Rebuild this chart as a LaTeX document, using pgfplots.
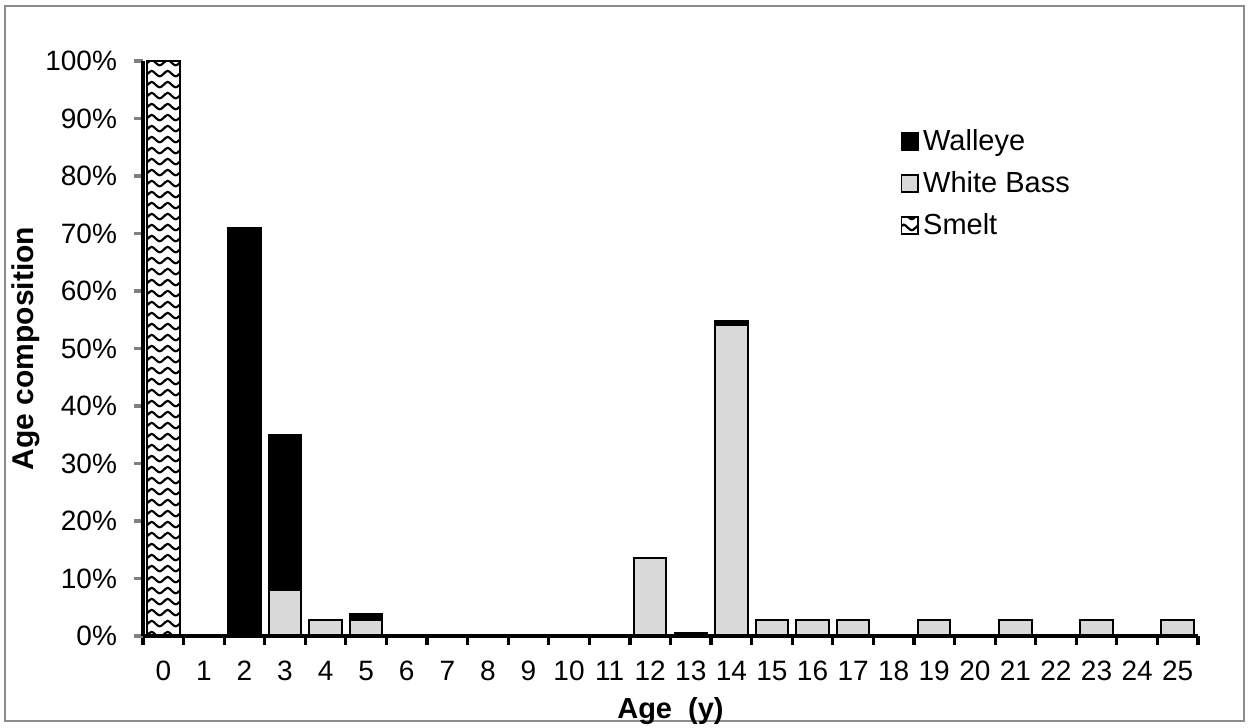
\documentclass[border=0pt]{standalone}
\usepackage{fontspec}
\setmainfont{Liberation Sans}
\usepackage{pgfplots}
\pgfplotsset{compat=1.18}
\usetikzlibrary{patterns}
\definecolor{wbgray}{HTML}{D9D9D9}
\definecolor{framegray}{HTML}{8C8C8C}
\pgfdeclarepatternformonly{waves}{\pgfqpoint{0pt}{0pt}}{\pgfqpoint{8pt}{5.5pt}}{\pgfqpoint{8pt}{5.5pt}}{
  \pgfsetlinewidth{1.15pt}
  \pgfpathmoveto{\pgfqpoint{-1pt}{1.3pt}}
  \pgfpathcurveto{\pgfqpoint{1.2pt}{1.0pt}}{\pgfqpoint{2.6pt}{4.4pt}}{\pgfqpoint{4pt}{4.4pt}}
  \pgfpathcurveto{\pgfqpoint{5.4pt}{4.4pt}}{\pgfqpoint{6.8pt}{1.0pt}}{\pgfqpoint{9pt}{1.3pt}}
  \pgfusepath{stroke}}
\pgfplotstableread{
x smelt wb walleye
0 100 0 0
1 0 0 0
2 0 0 71
3 0 8 27
4 0 2.7 0
5 0 2.7 1.1
6 0 0 0
7 0 0 0
8 0 0 0
9 0 0 0
10 0 0 0
11 0 0 0
12 0 13.5 0
13 0 0 0.5
14 0 54 0.7
15 0 2.7 0
16 0 2.7 0
17 0 2.7 0
18 0 0 0
19 0 2.7 0
20 0 0 0
21 0 2.7 0
22 0 0 0
23 0 2.7 0
24 0 0 0
25 0 2.7 0
}\agedata
\begin{document}
\begin{tikzpicture}
\useasboundingbox (0,0) rectangle (624.5pt,364pt);
\draw[framegray, line width=0.8pt] (2.5pt,3.5pt) rectangle (622pt,361pt);
\begin{axis}[
  at={(71.5pt,46pt)}, anchor=south west,
  scale only axis, width=527.5pt, height=287.5pt,
  ybar stacked, bar width=0.8,
  xmin=-0.5, xmax=25.5, ymin=0, ymax=100,
  enlargelimits=false,
  axis x line=bottom, axis y line=left,
  axis line style={-, line width=2pt},
  axis on top,
  font=\fontsize{14}{17}\selectfont,
  /pgf/number format/assume math mode=true,
  xtick={0,...,25},
  minor xtick={-0.5,0.5,...,25.5},
  major x tick style={draw=none},
  minor x tick style={draw=black, line width=1.6pt},
  minor tick length=4.5pt,
  ytick={0,10,...,100},
  major y tick style={line width=1.8pt},
  major tick length=4.5pt,
  tick align=outside,
  yticklabel={\pgfmathprintnumber{\tick}\%},
  xticklabel style={yshift=-4.5pt},
  yticklabel style={xshift=-5pt},
  xlabel={\fontsize{14.5}{17}\selectfont\textbf{Age~~(y)}},
  ylabel={\fontsize{15}{18}\selectfont\textbf{Age composition}},
  every axis x label/.style={at={(axis description cs:0.5,-0.131)}, anchor=center},
  every axis y label/.style={at={(axis description cs:-0.111,0.5)}, rotate=90, anchor=center},
  legend style={at={(0.712,0.896)}, anchor=north west, draw=none, fill=none,
    font=\fontsize{14.5}{17}\selectfont, row sep=5pt},
  legend cell align=left,
  reverse legend,
  legend image code/.code={\draw[#1, line width=0.9pt] (0pt,-4.2pt) rectangle (8.4pt,4.2pt);},
]
\addplot[draw=black, line width=1pt, pattern=waves, pattern color=black] table[x=x,y=smelt]{\agedata};
\addlegendentry{Smelt}
\addplot[draw=black, line width=1pt, fill=wbgray] table[x=x,y=wb]{\agedata};
\addlegendentry{White Bass}
\addplot[draw=black, line width=1pt, fill=black] table[x=x,y=walleye]{\agedata};
\addlegendentry{Walleye}
\end{axis}
\end{tikzpicture}
\end{document}
